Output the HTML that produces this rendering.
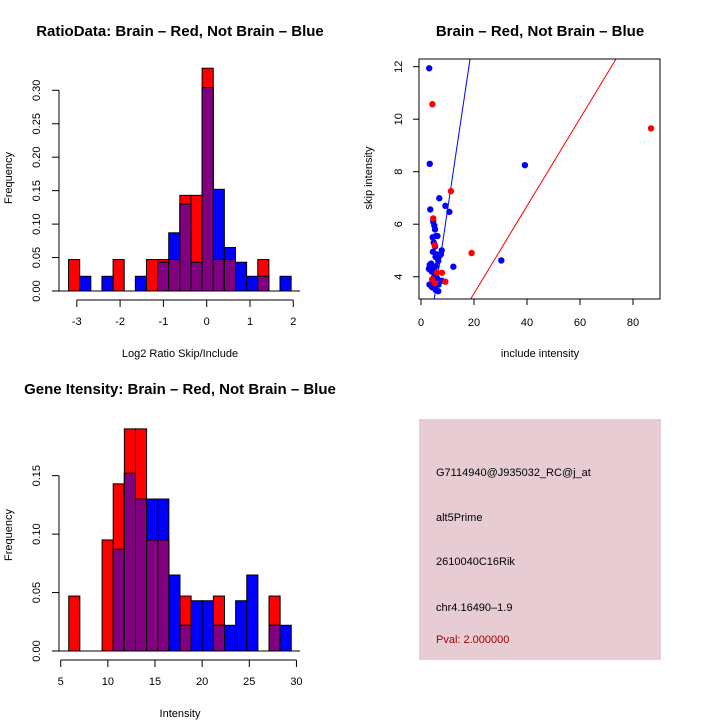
<!DOCTYPE html>
<html><head><meta charset="utf-8"><style>
body{margin:0;background:#fff;}
svg{display:block;font-family:"Liberation Sans",sans-serif;}
</style></head><body>
<svg id="c" width="720" height="720" xmlns="http://www.w3.org/2000/svg">
<rect width="720" height="720" fill="#fff"/>
<defs><pattern id="pk" width="2" height="2" patternUnits="userSpaceOnUse"><rect width="2" height="2" fill="#f6c0cc"/><rect width="1" height="1" fill="#ead0d6"/><rect x="1" y="1" width="1" height="1" fill="#ead0d6"/></pattern></defs>
<g id="g"></g>
</svg>
<script>
// Top-left: log2 ratio histogram
const ratioBinStart = -3.19, ratioBinWidth = 0.257;
const ratioRed  = [0.047,0,0,0,0.047,0,0,0.047,0.047,0.047,0.143,0.143,0.333,0.047,0.047,0,0,0.047,0,0];
const ratioBlue = [0,0.022,0,0.022,0,0,0.022,0,0.043,0.087,0.130,0.043,0.304,0.152,0.065,0.043,0.022,0.022,0,0.022];
const ratioXTicks = [-3,-2,-1,0,1,2];
const ratioYTicks = ["0.00","0.05","0.10","0.15","0.20","0.25","0.30"];
// Bottom-left: intensity histogram
const intBinStart = 5.85, intBinWidth = 1.18;
const intRed  = [0.047,0,0,0.095,0.143,0.190,0.190,0.095,0.095,0,0.047,0,0,0.047,0,0,0,0,0.047,0];
const intBlue = [0,0,0,0,0.087,0.152,0.130,0.130,0.130,0.065,0.022,0.043,0.043,0.022,0.022,0.043,0.065,0,0.022,0.022];
const intXTicks = [5,10,15,20,25,30];
const intYTicks = ["0.00","0.05","0.10","0.15"];
// Top-right scatter
const blueX = [3.1,3.3,39.2,6.9,9.2,10.7,3.5,30.3,12.2,4.6,5.0,5.3,4.4,5.6,6.2,4.8,5.3,4.5,5.9,7.8,7.5,6.7,5.5,6.5,3.3,4.8,3.0,5.6,4.0,5.0,6.0,7.8,3.2,4.5,6.6,4.2,5.5,6.5,3.8];
const blueY = [11.94,8.30,8.25,6.99,6.70,6.47,6.56,4.62,4.38,6.1,5.95,5.8,5.5,5.55,5.55,5.3,5.15,4.95,4.85,5.0,4.85,4.75,4.75,4.6,4.45,4.3,4.3,4.4,4.2,4.0,3.95,3.85,3.7,3.7,3.7,3.6,3.5,3.45,4.5];
const redX = [4.3,86.8,11.3,4.6,19.1,7.9,9.2,4.2,5.2,6.0,5.3];
const redY = [10.57,9.65,7.26,6.22,4.90,4.15,3.81,3.9,5.2,4.15,3.75];
const blueLine = [-0.235,0.677]; // intercept, slope
const redLine = [0.025,0.1667];
const scXTicks = [0,20,40,60,80];
const scYTicks = [4,6,8,10,12];

const g = document.getElementById('g');
const NS = 'http://www.w3.org/2000/svg';
function mk(tag, a, name){
  const e = document.createElementNS(NS, tag);
  for (const k in a) e.setAttribute(k, a[k]);
  
  
  g.appendChild(e); return e;
}
function txt(s, x, y, name, o){
  o = o || {};
  const e = mk('text', {x:x, y:y, 'font-size':o.size||11, 'text-anchor':o.anchor||'middle', fill:o.fill||'#000', 'font-weight':o.bold?'bold':'normal'}, name);
  if (o.rot) e.setAttribute('transform', 'rotate(-90 '+x+' '+y+')');
  e.textContent = s; return e;
}
function line(x1,y1,x2,y2,name,col,w){ return mk('line',{x1:x1,y1:y1,x2:x2,y2:y2,stroke:col||'#000','stroke-width':w||1},name); }

function hist(prefix, start, width, red, blue, xs, ys, xt, ytLabels, axisY, yAxisX){
  for (let i=0;i<red.length;i++){
    const x0 = xs(start+i*width), x1 = xs(start+(i+1)*width);
    const r = red[i], b = blue[i];
    if (r>0) mk('rect',{x:x0,y:ys(r),width:x1-x0,height:ys(0)-ys(r),fill:'#ff0000',stroke:'#000','stroke-width':1},prefix+'-red-bar-'+i);
    if (b>0) mk('rect',{x:x0,y:ys(b),width:x1-x0,height:ys(0)-ys(b),fill:'#0000ff',stroke:'#000','stroke-width':1},prefix+'-blue-bar-'+i);
    const m = Math.min(r,b);
    if (m>0) mk('rect',{x:x0,y:ys(m),width:x1-x0,height:ys(0)-ys(m),fill:'#800080',stroke:'#000','stroke-width':1},prefix+'-overlap-bar-'+i);
  }
  line(yAxisX, ys(0), 300, ys(0), prefix+'-baseline');
  line(xs(xt[0]), axisY, xs(xt[xt.length-1]), axisY, prefix+'-x-axis');
  xt.forEach(v=>{ line(xs(v),axisY,xs(v),axisY+7,prefix+'-x-tick'); txt(String(v), xs(v), axisY+25, prefix+'-x-tick-label'); });
  const yv = ytLabels.map(parseFloat);
  line(yAxisX, ys(yv[0]), yAxisX, ys(yv[yv.length-1]), prefix+'-y-axis');
  ytLabels.forEach((s,i)=>{ line(yAxisX-7,ys(yv[i]),yAxisX,ys(yv[i]),prefix+'-y-tick'); txt(s, 40, ys(yv[i]), prefix+'-y-tick-label', {rot:true}); });
}

// Top-left
const rx = v => 206.7 + v*43.3, ry = v => 291 - v*669;
hist('ratio', ratioBinStart, ratioBinWidth, ratioRed, ratioBlue, rx, ry, ratioXTicks, ratioYTicks, 300, 59);
txt('RatioData: Brain \u2013 Red, Not Brain \u2013 Blue', 180, 36, 'ratio-title', {size:15, bold:true});
txt('Log2 Ratio Skip/Include', 180, 357, 'ratio-x-title');
txt('Frequency', 12, 178, 'ratio-y-title', {rot:true});

// Bottom-left
const ix = v => 60.7 + (v-5)*9.43, iy = v => 651 - v*1169;
hist('intensity', intBinStart, intBinWidth, intRed, intBlue, ix, iy, intXTicks, intYTicks, 660, 59);
txt('Gene Itensity: Brain \u2013 Red, Not Brain \u2013 Blue', 180, 394, 'intensity-title', {size:15, bold:true});
txt('Intensity', 180, 717, 'intensity-x-title');
txt('Frequency', 12, 535, 'intensity-y-title', {rot:true});

// Top-right scatter
const sx = v => 421 + v*2.65, sy = v => 276.7 - (v-4)*26.25;
const L=419, R=660, T=59, B=299;
const clip = mk('clipPath',{id:'sc'},'scatter-clip');
const cr = document.createElementNS(NS,'rect'); cr.setAttribute('x',L);cr.setAttribute('y',T);cr.setAttribute('width',R-L);cr.setAttribute('height',B-T); clip.appendChild(cr);
sy.inv = py => 4 + (276.7-py)/26.25;
function regLine(p, col, name){
  const xa = (sy.inv(B)-p[0])/p[1], xb = (sy.inv(T)-p[0])/p[1];
  const e = line(sx(xa), B, sx(xb), T, name, col, 1); e.setAttribute('clip-path','url(#sc)');
}
regLine(blueLine, '#0000ff', 'blue-fit-line');
regLine(redLine, '#ff0000', 'red-fit-line');
blueX.forEach((v,i)=>{ mk('circle',{cx:sx(v),cy:sy(blueY[i]),r:3.2,fill:'#0000ff'},'blue-point'); });
redX.forEach((v,i)=>{ mk('circle',{cx:sx(v),cy:sy(redY[i]),r:3.2,fill:'#ff0000'},'red-point'); });
mk('rect',{x:L,y:T,width:R-L,height:B-T,fill:'none',stroke:'#000','stroke-width':1},'scatter-frame');
scXTicks.forEach(v=>{ line(sx(v),B,sx(v),B+6,'scatter-x-tick'); txt(String(v), sx(v), B+27, 'scatter-x-tick-label'); });
scYTicks.forEach(v=>{ line(L-6,sy(v),L,sy(v),'scatter-y-tick'); txt(String(v), 402, sy(v), 'scatter-y-tick-label', {rot:true}); });
txt('Brain \u2013 Red, Not Brain \u2013 Blue', 540, 36, 'scatter-title', {size:15, bold:true});
txt('include intensity', 540, 357, 'scatter-x-title');
txt('skip intensity', 372, 178, 'scatter-y-title', {rot:true});

// Bottom-right info panel
mk('rect',{x:419,y:419,width:242,height:241,fill:'url(#pk)'},'info-panel');
txt('G7114940@J935032_RC@j_at', 436, 476, 'probe-id', {anchor:'start'});
txt('alt5Prime', 436, 521, 'event-type', {anchor:'start'});
txt('2610040C16Rik', 436, 565, 'gene-name', {anchor:'start'});
txt('chr4.16490\u20131.9', 436, 611, 'location', {anchor:'start'});
txt('Pval: 2.000000', 436, 643, 'pvalue', {anchor:'start', fill:'#a00000'});
</script>
</body></html>
